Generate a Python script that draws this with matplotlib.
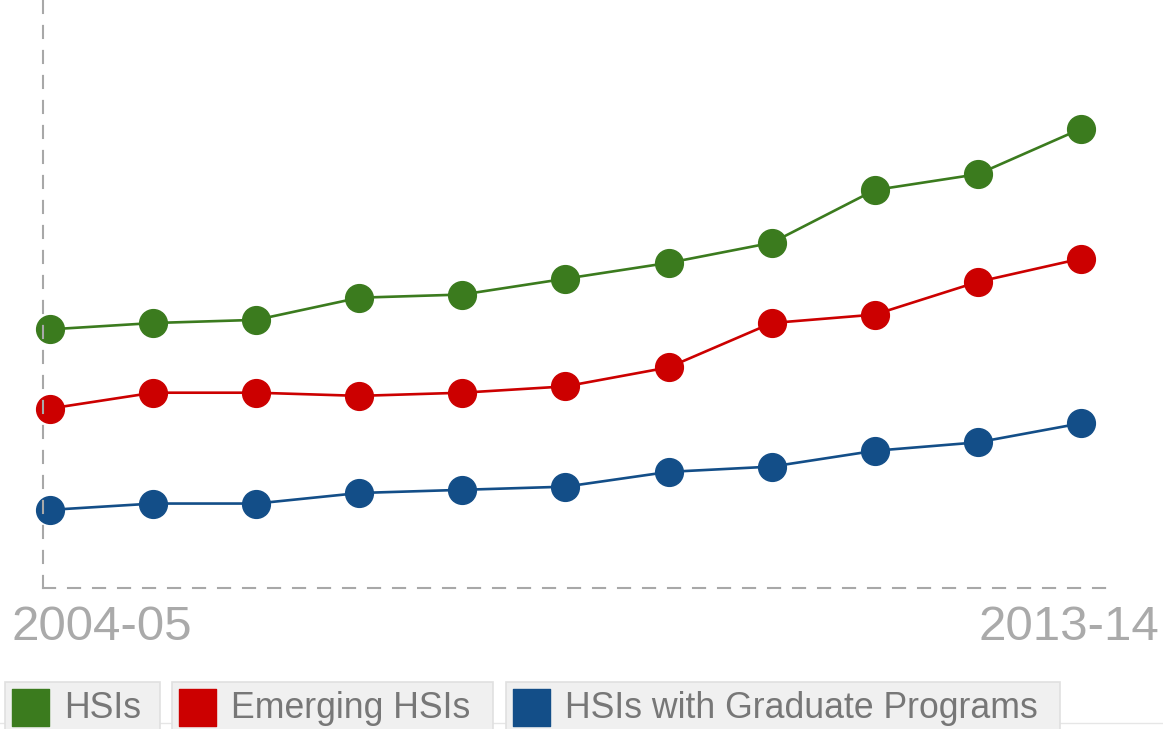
import matplotlib.pyplot as plt
from matplotlib.patches import Rectangle
import numpy as np

plt.rcParams['font.family'] = ['Liberation Sans', 'DejaVu Sans']

# data (counts of institutions)
years = ["2004-05", "2005-06", "2006-07", "2007-08", "2008-09", "2009-10",
         "2010-11", "2011-12", "2012-13", "2013-14", "2014-15"]
hsis = [245, 251, 254, 275, 278, 293, 308, 327, 377, 392, 435]
emerging = [170, 185, 185, 182, 185, 191, 209, 251, 259, 290, 312]
graduate = [74, 80, 80, 90, 93, 96, 110, 115, 130, 138, 156]
tick_labels = ["2004-05", "2013-14"]

series_names = ["HSIs", "Emerging HSIs", "HSIs with Graduate Programs"]
colors = ["#3b7b1e", "#cc0000", "#134e88"]

W, H = 1163, 729
fig = plt.figure(figsize=(W / 100, H / 100), dpi=100)

def fx(px):
    return px / W

def fy(py):
    return 1 - py / H

ax = fig.add_axes([fx(43), fy(588), fx(1115) - fx(43), fy(0) - fy(588)])

x = np.arange(len(years))
for vals, c in zip([hsis, emerging, graduate], colors):
    ax.plot(x, vals, color=c, lw=1.9, marker='o', markersize=20,
            markerfacecolor=c, markeredgecolor=c, clip_on=False, zorder=2)

ax.set_xlim(-0.068, 10.33)
ax.set_ylim(0, 557)

for s in ['top', 'right']:
    ax.spines[s].set_visible(False)
for s in ['left', 'bottom']:
    ax.spines[s].set_color('#a8a8a8')
    ax.spines[s].set_linewidth(1.5)
    ax.spines[s].set_linestyle((0, (5.8, 6.2)))
    ax.spines[s].set_zorder(5)
ax.set_xticks([])
ax.set_yticks([])

# end labels on x axis
fig.text(fx(12), fy(628), tick_labels[0], fontsize=35.5, color='#aaaaaa',
         ha='left', va='center')
fig.text(fx(1159), fy(628), tick_labels[1], fontsize=35.5, color='#aaaaaa',
         ha='right', va='center')

# legend boxes drawn by hand
fig.add_artist(plt.Line2D([0, 1], [fy(723), fy(723)], color='#e6e6e6', lw=1,
                          transform=fig.transFigure, zorder=0))
boxes = [(5, 160), (172, 493), (506, 1060)]
for (x0, x1), name, c in zip(boxes, series_names, colors):
    fig.add_artist(Rectangle((fx(x0), fy(740)), fx(x1) - fx(x0), fy(682) - fy(740),
                             transform=fig.transFigure, facecolor='#f0f0f0',
                             edgecolor='#e0e0e0', lw=1.2, zorder=1))
    fig.add_artist(Rectangle((fx(x0 + 7), fy(726)), fx(37), fy(689) - fy(726),
                             transform=fig.transFigure, facecolor=c,
                             edgecolor=c, lw=1, joinstyle='round', zorder=2))
    fig.text(fx(x0 + 59), fy(709), name, fontsize=25.7, color='#777777',
             ha='left', va='center')

fig.savefig('out.png', dpi=100)
